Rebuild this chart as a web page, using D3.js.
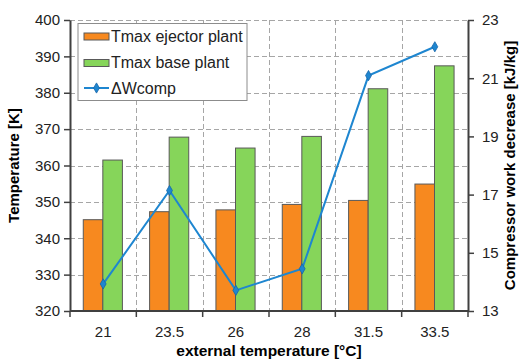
<!DOCTYPE html>
<html>
<head>
<meta charset="utf-8">
<style>
  body { margin: 0; background: #fff; }
  svg { display: block; font-family: "Liberation Sans", Arial, sans-serif; }
</style>
<script src="https://d3js.org/d3.v7.min.js"></script>
</head>
<body>
<svg width="523" height="359"></svg>
<script>
// data
var extTemps = ["21", "23.5", "26", "28", "31.5", "33.5"];
var tmaxEjector = [345.1, 347.3, 347.8, 349.3, 350.4, 354.9];
var tmaxBase = [361.5, 367.8, 364.8, 368.0, 381.1, 387.4];
var deltaWcomp = [13.93, 17.14, 13.71, 14.45, 21.09, 22.08];
var leftTicks = [320, 330, 340, 350, 360, 370, 380, 390, 400];
var rightTicks = [13, 15, 17, 19, 21, 23];

var keys = ["Tmax ejector plant", "Tmax base plant"];
var colors = ["#f7891f", "#86d55a"];
var lineColor = "#1e86d0";

var svg = d3.select("svg");
var margin = {top: 20, right: 55, bottom: 48, left: 70},
    width = +svg.attr("width") - margin.left - margin.right,
    height = +svg.attr("height") - margin.top - margin.bottom,
    g = svg.append("g").attr("transform", "translate(" + margin.left + "," + margin.top + ")");

var x0 = d3.scaleBand().domain(extTemps).range([0, width]).padding(0);
var bw = x0.bandwidth();
var x1 = d3.scaleBand().domain(keys).range([bw * 0.2, bw * 0.79]).padding(0);
var y = d3.scaleLinear().domain([320, 400]).range([height, 0]);
var y2 = d3.scaleLinear().domain([13, 23]).range([height, 0]);

var data = extTemps.map(function(t, i) {
  return {t: t, vals: [tmaxEjector[i], tmaxBase[i]], w: deltaWcomp[i]};
});

// grid
var grid = g.append("g").attr("stroke", "#a6a6a6").attr("stroke-dasharray", "5,3").attr("stroke-width", 1);
grid.selectAll("line.h").data(leftTicks.slice(1)).enter().append("line")
  .attr("x1", 0).attr("x2", width)
  .attr("y1", function(d) { return Math.round(y(d)) + 0.5; })
  .attr("y2", function(d) { return Math.round(y(d)) + 0.5; });
grid.selectAll("line.v").data(extTemps.slice(1)).enter().append("line")
  .attr("y1", 0).attr("y2", height)
  .attr("x1", function(d) { return Math.round(x0(d)) + 0.5; })
  .attr("x2", function(d) { return Math.round(x0(d)) + 0.5; });

// bars
g.append("g").selectAll("g").data(data).enter().append("g")
  .attr("transform", function(d) { return "translate(" + x0(d.t) + ",0)"; })
  .selectAll("rect")
  .data(function(d) { return d.vals.map(function(v, k) { return {key: keys[k], value: v, k: k}; }); })
  .enter().append("rect")
  .attr("x", function(d) { return x1(d.key); })
  .attr("y", function(d) { return y(d.value); })
  .attr("width", x1.bandwidth())
  .attr("height", function(d) { return height - y(d.value); })
  .attr("fill", function(d) { return colors[d.k]; })
  .attr("stroke", "#595959")
  .attr("stroke-width", 1);

// line on right axis
var line = d3.line()
  .x(function(d) { return x0(d.t) + bw / 2; })
  .y(function(d) { return y2(d.w); });
g.append("path").datum(data)
  .attr("d", line)
  .attr("fill", "none")
  .attr("stroke", lineColor)
  .attr("stroke-width", 2);
var diamond = d3.symbol().type(d3.symbolDiamond).size(30);
g.append("g").selectAll("path").data(data).enter().append("path")
  .attr("d", diamond)
  .attr("transform", function(d) { return "translate(" + (x0(d.t) + bw / 2) + "," + y2(d.w) + ")"; })
  .attr("fill", lineColor)
  .attr("stroke", "#1565a8")
  .attr("stroke-width", 0.8);

// axes
function styleAxis(sel) {
  sel.selectAll("path").attr("stroke", "#404040").attr("stroke-width", 2);
  sel.selectAll("line").attr("stroke", "#404040").attr("stroke-width", 1.5);
  sel.selectAll("text").attr("font-size", 15).attr("fill", "#222");
}

g.append("g")
  .call(d3.axisLeft(y).tickValues(leftTicks).tickSize(6).tickSizeOuter(0).tickPadding(4))
  .call(styleAxis);

g.append("g")
  .attr("transform", "translate(" + width + ",0)")
  .call(d3.axisRight(y2).tickValues(rightTicks).tickSize(6).tickSizeOuter(0).tickPadding(8))
  .call(styleAxis);

var xb = g.append("g").attr("transform", "translate(0," + height + ")");
xb.append("line").attr("x1", 0).attr("x2", width).attr("stroke", "#404040").attr("stroke-width", 2);
xb.selectAll("line.tk").data(extTemps.concat(["end"])).enter().append("line")
  .attr("x1", function(d, i) { return i < extTemps.length ? x0(d) : width; })
  .attr("x2", function(d, i) { return i < extTemps.length ? x0(d) : width; })
  .attr("y1", 0).attr("y2", 6)
  .attr("stroke", "#404040").attr("stroke-width", 1.5);
xb.selectAll("text").data(extTemps).enter().append("text")
  .attr("x", function(d) { return x0(d) + bw / 2; })
  .attr("y", 26)
  .attr("text-anchor", "middle")
  .attr("font-size", 15)
  .attr("fill", "#222")
  .text(function(d) { return d; });

// axis titles
svg.append("text")
  .attr("x", margin.left + width / 2)
  .attr("y", 356)
  .attr("text-anchor", "middle")
  .attr("font-size", 15.5).attr("font-weight", "bold")
  .text("external temperature [°C]");

svg.append("text")
  .attr("transform", "translate(19," + (margin.top + height / 2) + ") rotate(-90)")
  .attr("text-anchor", "middle")
  .attr("font-size", 15).attr("font-weight", "bold")
  .text("Temperature [K]");

svg.append("text")
  .attr("transform", "translate(515," + (margin.top + height / 2) + ") rotate(-90)")
  .attr("text-anchor", "middle")
  .attr("font-size", 15).attr("font-weight", "bold")
  .text("Compressor work decrease [kJ/kg]");

// legend
var lg = svg.append("g").attr("transform", "translate(78,23.5)");
lg.append("rect").attr("width", 169).attr("height", 77)
  .attr("fill", "#fff").attr("stroke", "#8c8c8c").attr("stroke-width", 1);
var items = lg.selectAll("g.it").data(keys.concat(["\u0394Wcomp"])).enter().append("g")
  .attr("transform", function(d, i) { return "translate(0," + [12.5, 39, 64.5][i] + ")"; });
items.filter(function(d, i) { return i < 2; }).append("rect")
  .attr("x", 6).attr("y", -3).attr("width", 25).attr("height", 7)
  .attr("fill", function(d, i) { return colors[i]; })
  .attr("stroke", "#595959").attr("stroke-width", 1);
var lineItem = items.filter(function(d, i) { return i === 2; });
lineItem.append("line").attr("x1", 6).attr("x2", 31).attr("y1", 0).attr("y2", 0)
  .attr("stroke", lineColor).attr("stroke-width", 2);
lineItem.append("path").attr("d", diamond).attr("transform", "translate(18.5,0)")
  .attr("fill", lineColor).attr("stroke", "#1565a8").attr("stroke-width", 0.8);
items.append("text")
  .attr("x", 33).attr("y", 0).attr("dy", "0.36em")
  .attr("font-size", 16).attr("fill", "#222")
  .text(function(d) { return d; });
</script>
</body>
</html>
